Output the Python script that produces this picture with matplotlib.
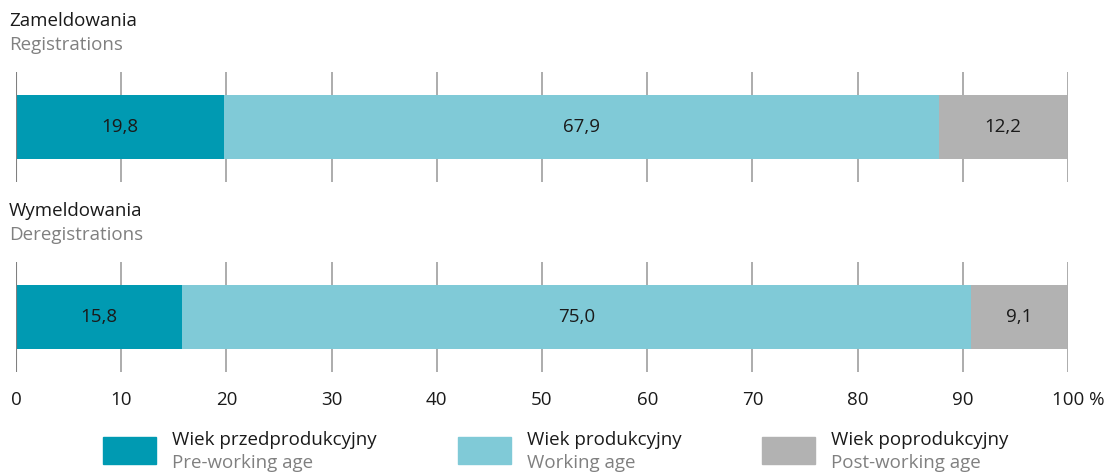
import matplotlib

matplotlib.use("Agg")
import matplotlib.pyplot as plt  # noqa: E402
from matplotlib.patches import Rectangle  # noqa: E402
from matplotlib.transforms import ScaledTranslation  # noqa: E402

plt.rcParams["font.family"] = ["Open Sans", "DejaVu Sans"]

# data
titles_pl = ["Zameldowania", "Wymeldowania"]
titles_en = ["Registrations", "Deregistrations"]
pre_working = [19.8, 15.8]
working = [67.9, 75.0]
post_working = [12.2, 9.1]
groups_pl = ["Wiek przedprodukcyjny", "Wiek produkcyjny", "Wiek poprodukcyjny"]
groups_en = ["Pre-working age", "Working age", "Post-working age"]
ticks = list(range(0, 101, 10))
tick_labels = [str(t) for t in ticks[:-1]] + ["100 %"]

colors = ["#009AB2", "#80CAD7", "#B2B2B2"]
grid_c = "#A6A6A6"
W, H = 1107, 472
fs = 13.5

fig = plt.figure(figsize=(W / 100, H / 100), dpi=100)


def fx(px):
    return px / W


def fy(py):
    return 1 - py / H


series = [pre_working, working, post_working]
tops = [72, 262]
for i, top in enumerate(tops):
    ax = fig.add_axes([fx(16), fy(top + 110), fx(1052), 110 / H])
    ax.set_xlim(0, 100); ax.set_ylim(0, 1)
    for s in ax.spines.values():
        s.set_visible(False)
    ax.vlines(ticks, 0, 1, color=grid_c, lw=1.3, zorder=0)
    ax.vlines(0, 0, 1, color="#808080", lw=1.5, zorder=3)
    left = 0
    for vals, c in zip(series, colors):
        v = vals[i]
        ax.barh(0.5, v, left=left, height=64 / 110, color=c, zorder=2)
        ax.text(left + v / 2, 0.5, f"{v:.1f}".replace(".", ","), ha="center", va="center",
                fontsize=fs, color="#1a1a1a", zorder=4)
        left += v
    ax.set_yticks([])
    if i == len(tops) - 1:
        ax.set_xticks(ticks)
        ax.set_xticklabels(tick_labels, fontsize=fs, color="#1a1a1a")
        ax.tick_params(axis="x", length=0, pad=14)
        # "100" centred on its tick, the % sign hangs to the right
        last = ax.get_xticklabels()[-1]
        last.set_ha("left")
        last.set_transform(last.get_transform() + ScaledTranslation(-0.16, 0, fig.dpi_scale_trans))
    else:
        ax.set_xticks([])
    fig.text(fx(9), fy(top - 51), titles_pl[i], fontsize=fs, color="#1a1a1a", va="center")
    fig.text(fx(9), fy(top - 27), titles_en[i], fontsize=fs, color="#808080", va="center")

# legend
box_x = [103, 458, 762]
for bx, c, pl, en in zip(box_x, colors, groups_pl, groups_en):
    fig.patches.append(Rectangle((fx(bx), fy(464)), fx(53), 27 / H, color=c,
                                 transform=fig.transFigure, figure=fig))
    fig.text(fx(bx + 69), fy(440), pl, fontsize=fs, color="#1a1a1a", va="center")
    fig.text(fx(bx + 69), fy(463), en, fontsize=fs, color="#808080", va="center")

fig.savefig("out.png", dpi=100)
plt.close(fig)
